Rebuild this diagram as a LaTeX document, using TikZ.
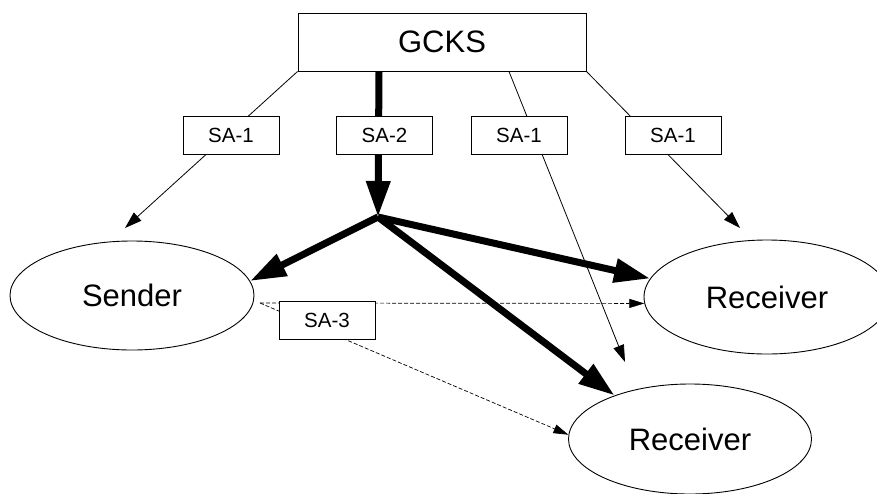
\documentclass[tikz,border=0pt]{standalone}
\usepackage{fontspec}
\setmainfont{Liberation Sans}
\usetikzlibrary{shapes.geometric, arrows.meta, positioning}

\begin{document}
\begin{tikzpicture}[x=1pt, y=-1pt,
  bigfont/.style={font=\fontsize{31}{36}\selectfont},
  party/.style={draw, ellipse, line width=0.9pt, inner sep=0pt, bigfont},
  salabel/.style={draw, fill=white, line width=1pt, minimum width=96pt,
                  minimum height=38pt, inner sep=0pt, font=\fontsize{20.5}{24}\selectfont},
  keyline/.style={line width=0.8pt, -{Triangle[length=17pt, width=11pt]}},
  heavy/.style={line width=7pt, -{Triangle[length=36pt, width=23pt]}},
  peer/.style={line width=0.7pt, dash pattern=on 4pt off 2pt,
               -{Triangle[length=15pt, width=9pt]}}]
  \useasboundingbox (0,0) rectangle (877,493);

  % Key server and group members
  \node[draw, line width=1pt, minimum width=288pt, minimum height=58pt, bigfont]
        (gcks) at (442,42) {GCKS};
  \node[party, minimum width=244pt, minimum height=109pt] (sender) at (132,295.5) {Sender};
  \node[party, minimum width=246pt, minimum height=114pt] (rec1) at (767,297) {Receiver};
  \node[party, minimum width=243pt, minimum height=110pt] (rec2) at (690,439) {Receiver};

  \coordinate (hub) at (378,217);
  \coordinate (t1) at (125,228);
  \coordinate (t3) at (625,362);
  \coordinate (t4) at (740,228);
  \coordinate (s0) at (260,303);

  % Thin key lines
  \draw[keyline] (gcks.south west) -- (t1);
  \draw[keyline] ([xshift=67pt]gcks.south) -- (t3);
  \draw[keyline] (gcks.south east) -- (t4);

  % Heavy distribution
  \draw[heavy] ([xshift=-63pt]gcks.south) -- (hub);
  \draw[heavy] (hub) -- (sender.7);
  \draw[heavy] (hub) -- (rec1.171);
  \draw[heavy] (hub) -- (rec2.150);

  % Sender traffic
  \draw[peer] (s0) -- (rec1.183);
  \draw[peer] (s0) -- (rec2.178);

  % SA labels
  \node[salabel] (sa1) at (231,135) {SA-1};
  \node[salabel] (sa2) at (384.5,135) {SA-2};
  \node[salabel] (sa1b) at (519,135) {SA-1};
  \node[salabel] (sa1c) at (673,135) {SA-1};
  \node[salabel] (sa3) at (327,320.5) {SA-3};
\end{tikzpicture}
\end{document}
